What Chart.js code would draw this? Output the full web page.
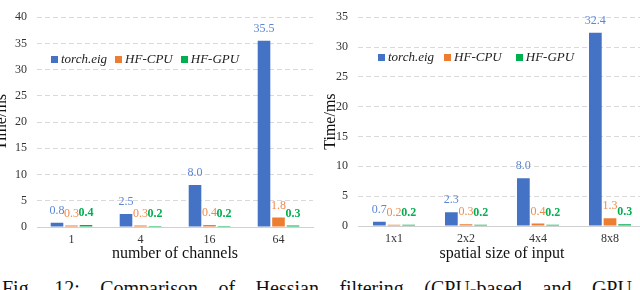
<!DOCTYPE html>
<html>
<head>
<meta charset="utf-8">
<script src="https://cdn.jsdelivr.net/npm/chart.js@4/dist/chart.umd.min.js"></script>
<style>
body { margin: 0; width: 640px; height: 290px; overflow: hidden; background: #fff; position: relative; font-family: "Liberation Serif", serif; }
.box { position: absolute; top: 0; height: 263px; }
.legend { position: absolute; display: flex; align-items: center; font-style: italic; font-size: 13px; color: #222; white-space: nowrap; }
.legend span.sq { display: inline-block; width: 7px; height: 7px; margin: 0 3px 0 0; }
.legend span.txt { margin-right: 8px; }
.caption { position: absolute; left: 2px; top: 278px; width: 630px; font-size: 20px; line-height: 20px; color: #111; display: flex; justify-content: space-between; white-space: nowrap; }
</style>
</head>
<body>
<div class="box" style="left:-8px;width:328px;"><canvas id="chartChannels"></canvas></div>
<div class="box" style="left:321px;width:325px;"><canvas id="chartSpatial"></canvas></div>

<div class="legend" style="left:51px;top:51px;">
  <span class="sq" style="background:#4472C4"></span><span class="txt">torch.eig</span>
  <span class="sq" style="background:#ED7D31"></span><span class="txt">HF-CPU</span>
  <span class="sq" style="background:#00B050"></span><span class="txt">HF-GPU</span>
</div>
<div class="legend" style="left:378px;top:49px;">
  <span class="sq" style="background:#4472C4"></span><span class="txt" style="margin-right:10px">torch.eig</span>
  <span class="sq" style="background:#ED7D31"></span><span class="txt" style="margin-right:14px">HF-CPU</span>
  <span class="sq" style="background:#00B050"></span><span class="txt">HF-GPU</span>
</div>

<div class="caption">
  <span>Fig.</span><span>12:</span><span>Comparison</span><span>of</span><span>Hessian</span><span>filtering</span><span>(CPU-based</span><span>and</span><span>GPU</span>
</div>

<script>
// data
const seriesNames = ['torch.eig', 'HF-CPU', 'HF-GPU'];
const channelLabels = ['1', '4', '16', '64'];
const channelTorch = [0.8, 2.5, 8.0, 35.5];
const channelCpu = [0.3, 0.3, 0.4, 1.8];
const channelGpu = [0.4, 0.2, 0.2, 0.3];

const spatialLabels = ['1x1', '2x2', '4x4', '8x8'];
const spatialTorch = [0.7, 2.3, 8.0, 32.4];
const spatialCpu = [0.2, 0.3, 0.4, 1.3];
const spatialGpu = [0.2, 0.2, 0.2, 0.3];

const barColors = ['#4472C4', '#ED7D31', '#00B050'];
const labelColors = ['#5B86D6', '#F08A4B', '#00B050'];
const labelWeights = ['normal', 'normal', 'bold'];
const serif = '"Liberation Serif", "Times New Roman", serif';

// draws the value above every bar
const valueLabels = {
    id: 'valueLabels',
    afterDatasetsDraw(chart) {
        const ctx = chart.ctx;
        chart.data.datasets.forEach((ds, i) => {
            const meta = chart.getDatasetMeta(i);
            meta.data.forEach((bar, j) => {
                ctx.save();
                ctx.font = labelWeights[i] + ' 12px ' + serif;
                ctx.fillStyle = labelColors[i];
                ctx.textAlign = 'center';
                ctx.textBaseline = 'middle';
                ctx.fillText(ds.data[j].toFixed(1), bar.x, bar.y - 12);
                ctx.restore();
            });
        });
    }
};

function makeChart(canvasId, labels, torch, cpu, gpu, opts) {
    const values = [torch, cpu, gpu];
    const ctx = document.getElementById(canvasId).getContext('2d');
    return new Chart(ctx, {
        type: 'bar',
        data: {
            labels: labels,
            datasets: values.map((v, i) => ({
                label: seriesNames[i],
                data: v,
                backgroundColor: barColors[i],
                borderWidth: 0,
                categoryPercentage: opts.catPct,
                barPercentage: 0.87
            }))
        },
        options: {
            responsive: true,
            maintainAspectRatio: false,
            animation: false,
            layout: { padding: { top: opts.top, right: opts.right, left: 0, bottom: 0 } },
            plugins: {
                legend: { display: false },
                tooltip: { enabled: false }
            },
            scales: {
                x: {
                    grid: { display: false, drawTicks: false },
                    border: { display: true, color: '#d0d0d0', width: 1 },
                    ticks: { color: '#333', padding: 6, font: { family: serif, size: 12 } },
                    title: {
                        display: true,
                        text: opts.xTitle,
                        color: '#111',
                        padding: 0,
                        font: { family: serif, size: 16 }
                    },
                    afterFit(scale) { scale.height = opts.xHeight; }
                },
                y: {
                    min: 0,
                    max: opts.yMax,
                    ticks: { stepSize: 5, color: '#333', padding: 10, font: { family: serif, size: 12 } },
                    grid: { color: '#d9d9d9', drawTicks: false },
                    border: { display: false, dash: [5, 3] },
                    title: {
                        display: true,
                        text: 'Time/ms',
                        color: '#111',
                        padding: 0,
                        font: { family: serif, size: 16 }
                    },
                    afterFit(scale) { scale.width = opts.yWidth; }
                }
            }
        },
        plugins: [valueLabels]
    });
}

makeChart('chartChannels', channelLabels, channelTorch, channelCpu, channelGpu,
    { yMax: 40, xTitle: 'number of channels', top: 5, right: 7, xHeight: 36, yWidth: 45, catPct: 0.63 });
makeChart('chartSpatial', spatialLabels, spatialTorch, spatialCpu, spatialGpu,
    { yMax: 35, xTitle: 'spatial size of input', top: 4, right: 0, xHeight: 37, yWidth: 37, catPct: 0.61 });
</script>
</body>
</html>
